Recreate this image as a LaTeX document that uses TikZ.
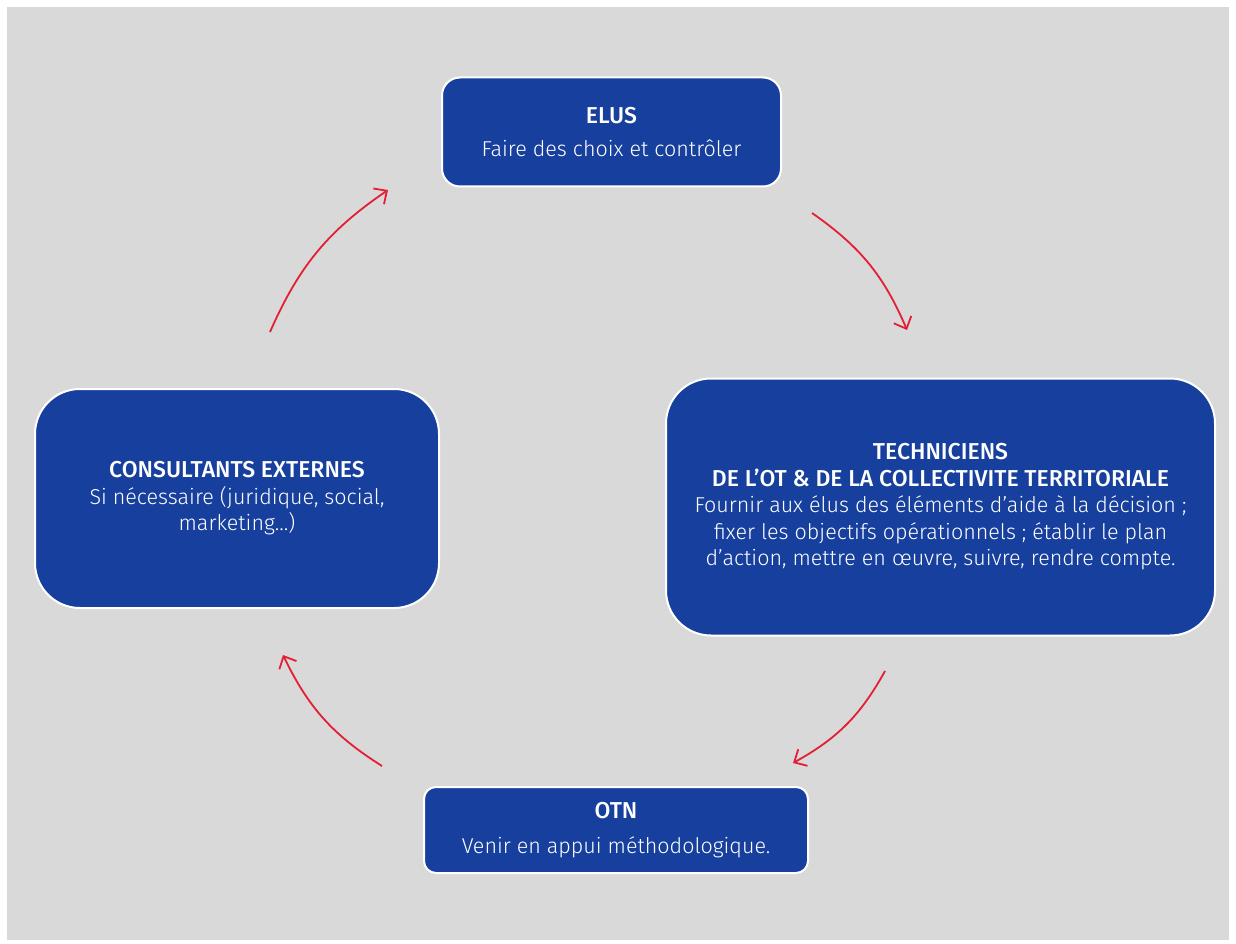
\documentclass[tikz,border=0pt]{standalone}
\usepackage{fontspec}
\setmainfont{Fira Sans}[UprightFont=* Light, BoldFont=* Medium]
\usetikzlibrary{arrows.meta}
\definecolor{bg}{HTML}{D9D9D9}
\definecolor{boxblue}{HTML}{173F9D}
\definecolor{arrred}{HTML}{E31E35}
\newcommand\boxttl[1]{{\fontsize{23}{26}\selectfont\bfseries #1}}
\tikzset{
  box/.style={draw=white, line width=2pt, fill=boxblue, text=white, align=center,
    inner sep=0pt, font=\fontsize{21.5}{26.5}\selectfont},
  cyc/.style={draw=arrred, line width=1.8pt, -{Straight Barb[length=10pt,width=19pt,line width=1.8pt]}, bend left=16}
}
\begin{document}
\begin{tikzpicture}[x=1pt,y=-1pt]
\useasboundingbox (0,0) rectangle (1236,944);
\fill[bg] (7,7) rectangle (1229,940);
\node[box, rounded corners=18pt, minimum width=339pt, minimum height=109pt] (elus) at (611.5,132)
  {\boxttl{ELUS}\\[7pt]Faire des choix et contrôler};
\node[box, rounded corners=45pt, minimum width=549pt, minimum height=257pt] (tech) at (940.5,507)
  {\boxttl{TECHNICIENS}\\\boxttl{DE L’OT \& DE LA COLLECTIVITE TERRITORIALE}\\
   Fournir aux élus des éléments d’aide à la décision ;\\
   fixer les objectifs opérationnels ; établir le plan\\
   d’action, mettre en œuvre, suivre, rendre compte.};
\node[box, rounded corners=45pt, minimum width=404pt, minimum height=219pt] (cons) at (237,498.5)
  {\boxttl{CONSULTANTS EXTERNES}\\Si nécessaire (juridique, social,\\marketing…)};
\node[box, rounded corners=12pt, minimum width=384pt, minimum height=86pt] (otn) at (616,830)
  {\boxttl{OTN}\\[9pt]Venir en appui méthodologique.};
\coordinate (a1s) at (812,213); \coordinate (a1e) at (907,330);
\coordinate (a2s) at (885,671); \coordinate (a2e) at (793,763);
\coordinate (a3s) at (382,766); \coordinate (a3e) at (283,655);
\coordinate (a4s) at (270,332); \coordinate (a4e) at (388,190);
\draw[cyc] (a1s) to (a1e);
\draw[cyc] (a2s) to (a2e);
\draw[cyc] (a3s) to (a3e);
\draw[cyc] (a4s) to (a4e);
\end{tikzpicture}
\end{document}
